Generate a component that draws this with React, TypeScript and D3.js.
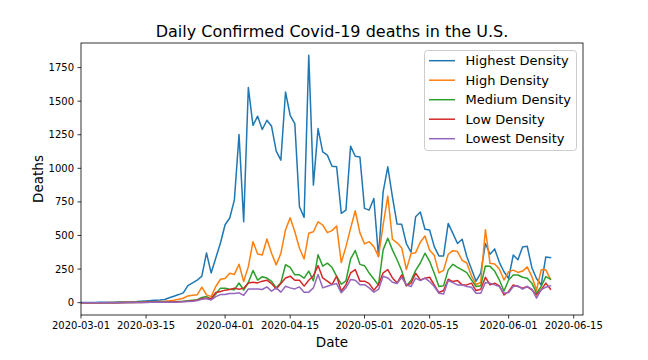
import React from "react";
import * as d3 from "d3";

const START_DATE = "2020-03-01";
const X_DOMAIN_END = "2020-06-17";

const highest = [1,1,1,1,2,2,3,3,4,5,5,6,8,11,13,15,18,20,23,36,48,60,73,127,147,167,197,370,221,333,444,580,630,765,1252,602,1601,1320,1388,1289,1358,1313,1128,1061,1568,1395,1333,714,635,1841,875,1296,1122,1098,1016,1011,665,689,1165,1090,1085,702,689,776,343,825,1011,788,585,583,440,375,640,675,546,541,417,348,348,590,516,440,472,343,250,160,220,440,360,400,300,230,180,355,320,415,420,260,180,130,340,335];
const high = [0,0,0,0,0,0,1,1,1,1,2,2,3,3,4,5,7,9,11,14,18,26,33,50,55,58,115,58,45,120,174,179,219,210,286,157,268,454,362,355,474,367,281,367,541,632,528,405,325,516,528,602,578,521,536,570,298,417,553,684,521,437,454,417,343,578,793,472,445,407,246,365,372,450,496,390,352,222,240,360,387,380,315,295,200,135,150,543,293,288,250,169,230,242,225,235,266,194,92,244,244,174];
const medium = [0,0,0,0,0,0,0,0,1,1,1,1,2,2,2,3,3,4,4,5,6,8,10,14,18,22,38,45,26,65,108,108,100,96,146,94,150,240,168,193,183,158,110,148,282,263,207,207,183,235,162,356,272,294,263,196,137,162,325,388,285,275,220,176,130,393,480,393,319,237,125,165,240,295,368,308,219,120,125,244,285,263,244,224,169,120,125,273,270,235,169,86,169,206,206,189,182,145,70,120,194,174];
const low = [0,0,0,0,0,0,0,0,0,1,1,1,1,1,2,2,2,3,3,4,4,6,8,10,14,18,30,33,30,75,83,93,98,108,100,108,146,152,147,160,167,142,102,142,184,197,167,167,123,167,200,276,184,160,134,197,85,134,221,246,160,160,142,93,134,221,246,184,147,206,125,145,219,169,182,189,132,75,90,174,157,164,132,132,145,90,100,189,132,145,125,58,83,132,120,108,120,95,58,95,145,100];
const lowest = [0,0,0,0,0,0,0,0,0,0,1,1,1,1,1,2,2,2,3,3,3,4,6,8,10,15,25,30,20,45,60,60,68,68,73,55,102,102,102,98,117,85,110,78,122,110,102,117,78,78,110,209,110,122,134,142,73,110,172,167,134,134,110,78,98,197,184,152,142,189,132,120,182,164,182,157,120,70,65,164,149,132,132,120,115,70,70,149,145,132,120,70,75,120,125,100,120,100,33,95,115,125];

const seriesNames = ["Highest Density", "High Density", "Medium Density", "Low Density", "Lowest Density"];
const seriesColors = ["#1f77b4", "#ff7f0e", "#2ca02c", "#d62728", "#9467bd"];
const seriesValues = [highest, high, medium, low, lowest];

const xTickLabels = ["2020-03-01", "2020-03-15", "2020-04-01", "2020-04-15", "2020-05-01", "2020-05-15", "2020-06-01", "2020-06-15"];
const yTicks = [0, 250, 500, 750, 1000, 1250, 1500, 1750];

const W = 648, H = 360;
const M = { left: 81, right: 583, top: 43, bottom: 315 };
const FONT = "DejaVu Sans, sans-serif";

export default function App() {
  const start = new Date(START_DATE + "T00:00:00Z");
  const x = d3.scaleUtc().domain([start, new Date(X_DOMAIN_END + "T00:00:00Z")]).range([M.left, M.right]);
  const allVals = seriesValues.flat();
  const vmin = d3.min(allVals) as number;
  const vmax = d3.max(allVals) as number;
  const pad = (vmax - vmin) * 0.05;
  const y = d3.scaleLinear().domain([vmin - pad, vmax + pad]).range([M.bottom, M.top]);

  const line = d3.line<number>()
    .x((_, i) => x(d3.utcDay.offset(start, i)))
    .y((v) => y(v));

  const legendX = 424.5, legendY = 50.5, legendW = 152, legendH = 100;
  const rowH = 19.5;

  return (
    <svg width={W} height={H} style={{ position: "absolute", left: 0, top: 0, background: "#fff" }} fontFamily={FONT}>
      <rect x={0} y={0} width={W} height={H} fill="#fff" />
      <defs>
        <clipPath id="plotclip">
          <rect x={M.left} y={M.top} width={M.right - M.left} height={M.bottom - M.top} />
        </clipPath>
      </defs>
      <text x={(M.left + M.right) / 2} y={37} textAnchor="middle" fontSize={16} fill="#000">
        Daily Confirmed Covid-19 deaths in the U.S.
      </text>
      <g clipPath="url(#plotclip)">
        {seriesValues.map((vals, k) => (
          <path key={k} d={line(vals) || ""} fill="none" stroke={seriesColors[k]} strokeWidth={1.5} strokeLinejoin="round" strokeLinecap="square" />
        ))}
      </g>
      {/* x ticks */}
      {xTickLabels.map((t) => {
        const xp = x(new Date(t + "T00:00:00Z"));
        return (
          <g key={t}>
            <line x1={xp} x2={xp} y1={M.bottom} y2={M.bottom + 3.5} stroke="#000" strokeWidth={0.8} />
            <text x={xp} y={M.bottom + 14} textAnchor="middle" fontSize={10} fill="#000">{t}</text>
          </g>
        );
      })}
      {/* y ticks */}
      {yTicks.map((t) => {
        const yp = y(t);
        return (
          <g key={t}>
            <line x1={M.left - 3.5} x2={M.left} y1={yp} y2={yp} stroke="#000" strokeWidth={0.8} />
            <text x={M.left - 7} y={yp} dy="0.35em" textAnchor="end" fontSize={10} fill="#000">{t}</text>
          </g>
        );
      })}
      <rect x={M.left} y={M.top} width={M.right - M.left} height={M.bottom - M.top} fill="none" stroke="#000" strokeWidth={0.8} />
      <text x={(M.left + M.right) / 2} y={347} textAnchor="middle" fontSize={13.5} fill="#000">Date</text>
      <text transform={`translate(43,${(M.top + M.bottom) / 2}) rotate(-90)`} textAnchor="middle" fontSize={13.5} fill="#000">Deaths</text>
      {/* legend */}
      <rect x={legendX} y={legendY} width={legendW} height={legendH} rx={3} fill="#fff" fillOpacity={0.8} stroke="#cccccc" strokeWidth={1} />
      {seriesNames.map((name, k) => {
        const cy = 60.7 + k * rowH;
        return (
          <g key={name}>
            <line x1={429} x2={455} y1={cy} y2={cy} stroke={seriesColors[k]} strokeWidth={1.5} />
            <text x={465.5} y={cy} dy="0.35em" fontSize={13} fill="#000">{name}</text>
          </g>
        );
      })}
    </svg>
  );
}
